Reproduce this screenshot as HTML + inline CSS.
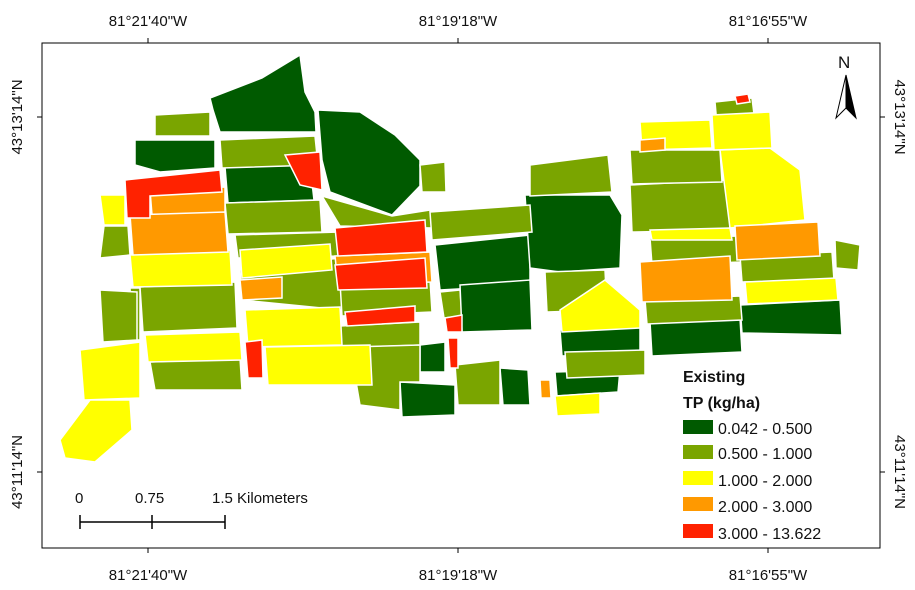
<!DOCTYPE html>
<html><head><meta charset="utf-8"><style>
html,body{margin:0;padding:0;background:#fff}
svg{display:block}
text{font-family:"Liberation Sans",Arial,sans-serif;fill:#111}
</style></head><body>
<svg width="915" height="590" viewBox="0 0 915 590">
<rect width="915" height="590" fill="#fff"/>
<g stroke="#fff" stroke-width="1.5">
<!-- green fillers -->
<g fill="#7aa500">
<polygon points="322,196 392,216 430,210 432,228 340,226"/>
<polygon points="440,292 460,290 462,316 444,318"/>
<polygon points="104,226 128,226 130,255 100,258"/>
<polygon points="130,288 140,288 140,340 133,340"/>
<polygon points="530,236 545,236 545,268 532,268"/>
</g>
<!-- dark green -->
<g fill="#005a00">
<polygon points="210,98 262,78 300,55 305,92 315,112 316,132 220,132 213,110"/>
<polygon points="135,140 215,140 215,168 160,172 135,165"/>
<polygon points="318,110 360,112 395,135 420,160 420,186 392,215 330,192 322,160"/>
<polygon points="225,167 310,165 314,200 228,203"/>
<polygon points="435,245 530,235 530,285 440,290"/>
<polygon points="525,195 610,195 622,215 620,268 560,272 530,268"/>
<polygon points="460,285 530,280 532,330 462,332"/>
<polygon points="560,330 640,325 640,352 562,356"/>
<polygon points="555,372 620,370 618,392 557,396"/>
<polygon points="400,382 455,385 455,415 402,417"/>
<polygon points="500,368 528,370 530,405 503,405"/>
<polygon points="420,345 445,342 445,372 420,372"/>
<polygon points="650,322 740,318 742,352 652,356"/>
<polygon points="740,305 840,300 842,335 742,333"/>
</g>
<!-- green -->
<g fill="#7aa500">
<polygon points="155,115 210,112 210,136 155,136"/>
<polygon points="220,140 315,136 318,165 222,168"/>
<polygon points="225,203 320,200 322,232 228,234"/>
<polygon points="235,235 340,232 342,256 238,258"/>
<polygon points="240,270 340,258 342,310 242,300"/>
<polygon points="100,290 137,292 137,340 103,342"/>
<polygon points="140,287 235,282 237,328 143,332"/>
<polygon points="150,362 240,358 242,390 155,390"/>
<polygon points="340,282 430,280 432,312 342,316"/>
<polygon points="340,326 420,322 420,345 342,348"/>
<polygon points="350,347 420,345 420,382 400,382 400,410 360,405"/>
<polygon points="430,212 530,205 532,232 432,240"/>
<polygon points="530,165 608,155 612,192 530,196"/>
<polygon points="545,272 605,270 607,310 547,312"/>
<polygon points="565,352 645,350 645,375 567,378"/>
<polygon points="455,365 500,360 500,405 458,405"/>
<polygon points="630,185 728,180 730,230 632,232"/>
<polygon points="630,150 720,150 722,182 632,184"/>
<polygon points="715,102 752,98 755,122 717,125"/>
<polygon points="650,238 740,236 742,262 652,265"/>
<polygon points="645,300 740,296 742,320 647,324"/>
<polygon points="740,256 832,252 834,280 742,282"/>
<polygon points="835,240 860,245 858,270 836,268"/>
<polygon points="420,165 445,162 446,192 422,192"/>
</g>
<!-- yellow -->
<g fill="#ffff00">
<polygon points="100,195 125,195 125,225 104,225"/>
<polygon points="130,255 230,250 232,285 133,287"/>
<polygon points="145,335 240,332 242,360 148,362"/>
<polygon points="80,350 140,342 140,398 84,400"/>
<polygon points="60,440 90,400 130,400 132,430 95,462 65,458"/>
<polygon points="240,250 330,244 332,270 242,278"/>
<polygon points="245,310 340,307 342,345 248,347"/>
<polygon points="265,347 370,345 372,385 268,385"/>
<polygon points="560,310 605,280 640,310 640,328 562,332"/>
<polygon points="555,396 600,393 600,414 557,416"/>
<polygon points="720,150 770,148 800,170 805,220 730,228"/>
<polygon points="712,115 770,112 772,148 714,150"/>
<polygon points="640,122 710,120 712,148 642,150"/>
<polygon points="650,230 730,228 732,240 652,240"/>
<polygon points="745,282 836,278 838,300 747,304"/>
</g>
<!-- orange -->
<g fill="#ff9900">
<polygon points="150,190 225,187 225,214 152,215"/>
<polygon points="130,215 225,212 228,252 133,255"/>
<polygon points="240,280 282,277 282,298 242,300"/>
<polygon points="335,256 430,252 432,282 338,285"/>
<polygon points="735,226 818,222 820,256 737,260"/>
<polygon points="640,262 730,256 732,300 642,302"/>
<polygon points="540,380 550,380 551,398 541,398"/>
<polygon points="640,140 665,138 665,150 640,152"/>
</g>
<!-- red -->
<g fill="#ff2200">
<polygon points="125,180 220,170 222,192 150,196 150,218 127,218"/>
<polygon points="335,228 425,220 427,252 338,256"/>
<polygon points="335,265 425,258 427,288 338,290"/>
<polygon points="345,312 415,306 415,322 347,326"/>
<polygon points="245,342 262,340 263,378 248,378"/>
<polygon points="285,155 320,152 322,190 300,185"/>
<polygon points="445,318 462,315 462,332 447,332"/>
<polygon points="448,338 458,338 458,368 450,368"/>
<polygon points="735,96 748,94 750,102 737,104"/>
</g>
</g>
<!-- legend -->
<rect x="672" y="362" width="195" height="185" fill="#fff"/>
<text x="683" y="382" font-size="16" font-weight="bold">Existing</text>
<text x="683" y="408" font-size="16" font-weight="bold">TP (kg/ha)</text>
<g font-size="16">
<rect x="683" y="420" width="30" height="14" fill="#005a00"/><text x="718" y="434">0.042 - 0.500</text>
<rect x="683" y="445" width="30" height="14" fill="#7aa500"/><text x="718" y="459">0.500 - 1.000</text>
<rect x="683" y="471" width="30" height="14" fill="#ffff00"/><text x="718" y="486">1.000 - 2.000</text>
<rect x="683" y="497" width="30" height="14" fill="#ff9900"/><text x="718" y="512">2.000 - 3.000</text>
<rect x="683" y="524" width="30" height="14" fill="#ff2200"/><text x="718" y="539">3.000 - 13.622</text>
</g>
<!-- scale bar -->
<g font-size="15">
<text x="75" y="503">0</text><text x="135" y="503">0.75</text><text x="212" y="503">1.5 Kilometers</text>
</g>
<g stroke="#000" stroke-width="1.5"><line x1="80" y1="522" x2="225" y2="522"/><line x1="80" y1="515" x2="80" y2="529"/><line x1="152" y1="515" x2="152" y2="529"/><line x1="225" y1="515" x2="225" y2="529"/></g>
<!-- north arrow -->
<text x="838" y="68" font-size="17">N</text>
<polygon points="846,75 836,118 846,108" fill="#fff" stroke="#000"/>
<polygon points="846,75 856,118 846,108" fill="#000" stroke="#000"/>
<!-- frame -->
<rect x="42" y="43" width="838" height="505" fill="none" stroke="#000" stroke-width="1"/>
<g stroke="#000"><line x1="148" y1="38" x2="148" y2="43"/><line x1="458" y1="38" x2="458" y2="43"/><line x1="768" y1="38" x2="768" y2="43"/>
<line x1="148" y1="548" x2="148" y2="553"/><line x1="458" y1="548" x2="458" y2="553"/><line x1="768" y1="548" x2="768" y2="553"/>
<line x1="37" y1="117" x2="42" y2="117"/><line x1="37" y1="472" x2="42" y2="472"/><line x1="880" y1="117" x2="885" y2="117"/><line x1="880" y1="472" x2="885" y2="472"/></g>
<g font-size="15" text-anchor="middle">
<text x="148" y="26">81°21'40"W</text><text x="458" y="26">81°19'18"W</text><text x="768" y="26">81°16'55"W</text>
<text x="148" y="580">81°21'40"W</text><text x="458" y="580">81°19'18"W</text><text x="768" y="580">81°16'55"W</text>
<text transform="translate(22,117) rotate(-90)">43°13'14"N</text>
<text transform="translate(22,472) rotate(-90)">43°11'14"N</text>
<text transform="translate(895,117) rotate(90)">43°13'14"N</text>
<text transform="translate(895,472) rotate(90)">43°11'14"N</text>
</g>
</svg>
</body></html>
